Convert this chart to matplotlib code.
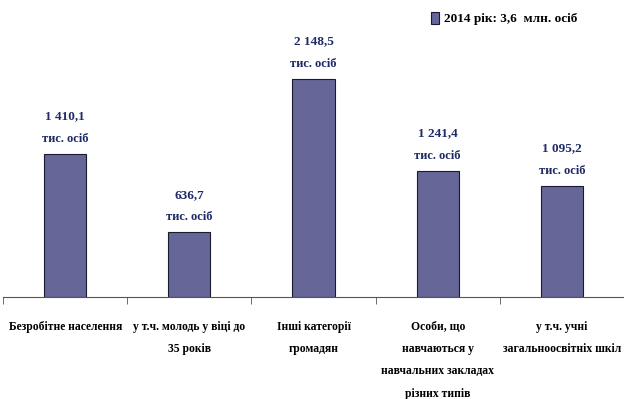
import matplotlib
matplotlib.use("Agg")
import matplotlib.pyplot as plt
import numpy as np

categories = ["Безробітне населення",
              "у т.ч. молодь у віці до\n35 років",
              "Інші категорії\nгромадян",
              "Особи, що\nнавчаються у\nнавчальних закладах\nрізних типів",
              "у т.ч. учні\nзагальноосвітніх шкіл"]
values = [1410.1, 636.7, 2148.5, 1241.4, 1095.2]
value_labels = ["1 410,1", "636,7", "2 148,5", "1 241,4", "1 095,2"]
unit_label = "тис. осіб"
legend_label = "2014 рік: 3,6  млн. осіб"

plt.rcParams['font.family'] = ['Liberation Serif', 'DejaVu Serif']

fig = plt.figure(figsize=(6.24, 3.99), dpi=100)
ax = fig.add_axes([0.005, 0.2556, 0.995, 0.737])

x = np.arange(len(categories))
bars = ax.bar(x, values, width=0.34, color='#666699', edgecolor='#1a1a2e',
              linewidth=0.8, label=legend_label)

ax.set_xlim(-0.5, len(categories) - 0.5)
ax.set_ylim(0, 2900)

for s in ['left', 'right', 'top']:
    ax.spines[s].set_visible(False)
ax.spines['bottom'].set_color('#555555')
ax.set_yticks([])

ax.set_xticks(x)
ax.set_xticklabels(categories, fontsize=8.4, fontweight='bold', linespacing=2.15,
                   va='top')
ax.tick_params(axis='x', which='major', length=0, pad=17)
ax.set_xticks(np.arange(-0.5, len(categories)), minor=True)
ax.tick_params(axis='x', which='minor', length=5, color='#555555', direction='out')

navy = '#1f2a66'
for xi, v, lab in zip(x, values, value_labels):
    ax.annotate(lab, (xi, v), xytext=(0, 27), textcoords='offset points',
                ha='center', va='center', fontsize=9.5, fontweight='bold', color=navy)
    ax.annotate(unit_label, (xi, v), xytext=(0, 11), textcoords='offset points',
                ha='center', va='center', fontsize=9, fontweight='bold', color=navy)

leg = ax.legend(loc='upper right', bbox_to_anchor=(0.945, 1.0), bbox_transform=fig.transFigure,
                frameon=False, prop={'weight': 'bold', 'size': 9.5},
                handlelength=0.6, handleheight=1.0, handletextpad=0.4)

fig.savefig('out.png', dpi=100)
